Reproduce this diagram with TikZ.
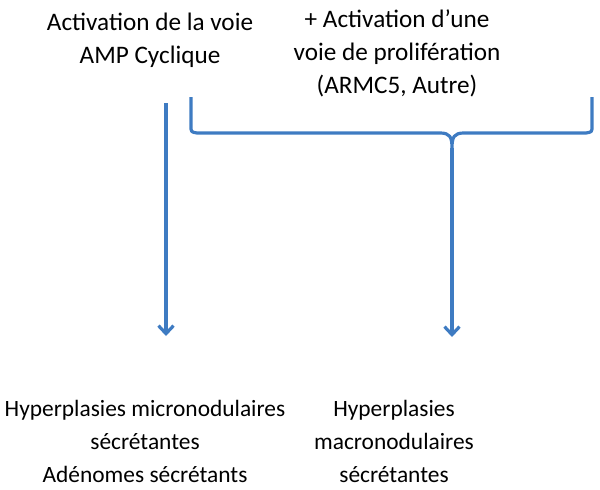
\documentclass[tikz,border=0pt]{standalone}
\usepackage{fontspec}
\setmainfont{Carlito}
\usepackage{tikz}
\usetikzlibrary{arrows.meta}
\definecolor{arrowblue}{RGB}{62,123,194}

\begin{document}
\begin{tikzpicture}[x=1pt, y=-1pt,
    label/.style={align=center, inner sep=0pt, anchor=base,
      font=\fontsize{23.4}{33}\selectfont},
    toplabel/.style={label, font=\fontsize{25.2}{33}\selectfont},
    bluearrow/.style={draw=arrowblue, line width=3.2pt,
      -{Straight Barb[length=8pt, width=15pt]}}]
  \useasboundingbox (0,0) rectangle (600,490);

  % Top texts (anchored at the last line)
  \node[toplabel] (camp) at (150,63) {Activation de la voie\\AMP Cyclique};
  \node[toplabel] (prolif) at (397,93) {+ Activation d’une\\voie de prolifération\\(ARMC5, Autre)};

  % Bottom texts
  \node[label] (micro) at (145,482) {Hyperplasies micronodulaires\\sécrétantes\\Adénomes sécrétants};
  \node[label] (macro) at (394,482) {Hyperplasies\\macronodulaires\\sécrétantes};

  % Brace
  \coordinate (braceL) at (191,97);
  \coordinate (braceR) at (592,97);
  \coordinate (cusp) at (452,148);
  \draw[arrowblue, line width=3.2pt, line join=round]
    (braceL) -- (191,126) .. controls (191,132) .. (197,133) -- (440,133)
    .. controls (450,133) and (452,137) .. (cusp)
    .. controls (452,137) and (454,133) .. (464,133) -- (586,133)
    .. controls (592,132) .. (592,126) -- (braceR);

  % Arrows
  \coordinate (campEnd) at (166,103);
  \coordinate (microTop) at (166,336);
  \coordinate (macroTop) at (452,337);
  \draw[bluearrow] (campEnd) -- (microTop);
  \draw[bluearrow] (cusp) -- (macroTop);
\end{tikzpicture}
\end{document}
